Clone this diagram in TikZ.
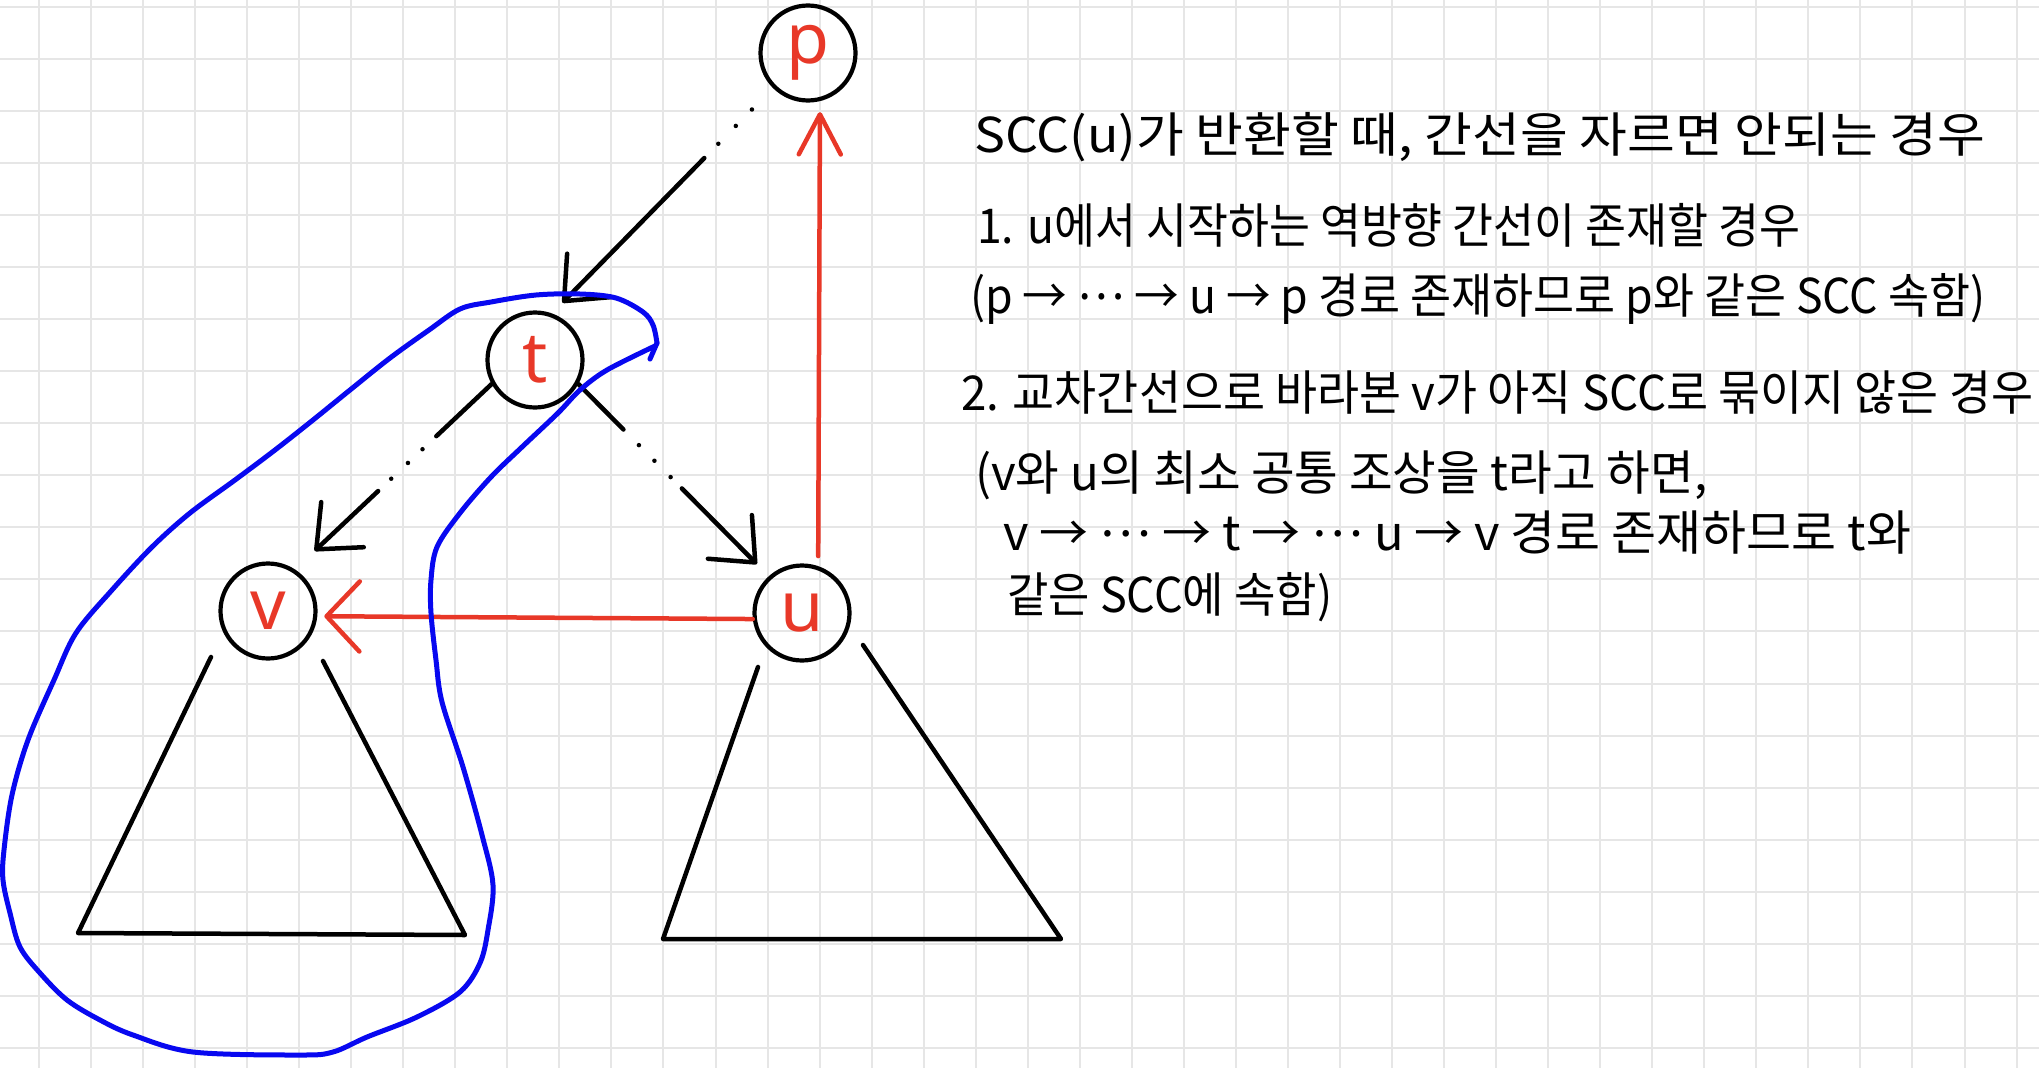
\documentclass[tikz,border=0pt]{standalone}
\usepackage{fontspec}
\usepackage{graphicx}
\usetikzlibrary{arrows.meta,calc}
\newfontfamily\krfont{Noto Sans CJK KR}
\newfontfamily\lettfont{Noto Sans}
\definecolor{gridc}{RGB}{230,230,230}
\definecolor{redc}{RGB}{232,56,40}
\definecolor{bluec}{RGB}{8,8,240}
\newcommand{\mdots}{\raisebox{0.28em}{…}}
\begin{document}
\begin{tikzpicture}[x=1pt,y=-1pt,
  gridline/.style={draw=gridc, line width=2pt},
  vtx/.style={circle, draw=black, line width=4.2pt, minimum size=95pt, inner sep=0pt, text=redc, font=\lettfont\fontsize{70}{70}\selectfont},
  blk/.style={draw=black, line width=4.5pt, line cap=round, -{Straight Barb[length=36pt,width=62pt,round]}},
  redarrow/.style={draw=redc, line width=4.5pt, line cap=round},
  subtree/.style={draw=black, line width=4.5pt, line join=round, line cap=round},
  loopline/.style={draw=bluec, line width=5pt, line cap=round, line join=round},
  txt/.style={anchor=base west, inner sep=0pt, font=\krfont\fontsize{48}{48}\selectfont}
]
\useasboundingbox (0,0) rectangle (2039,1068);
\fill[white] (0,0) rectangle (2039,1068);
% grid
\foreach \i in {0,...,38} \draw[gridline] ({39+52.04*\i},0) -- ({39+52.04*\i},1068);
\foreach \j in {0,...,20} \draw[gridline] (0,{7+52.04*\j}) -- (2039,{7+52.04*\j});

% vertices
\node[vtx] (p) at (808,53) {p};
\node[vtx] (t) at (535,360) {t};
\node[vtx] (v) at (268,611) {v};
\node[vtx] (u) at (802,613) {u};

% subtrees
\draw[subtree] (211,657) -- (78,933) -- (465,935) -- (323,661);
\draw[subtree] (758,667) -- (663,939) -- (1061,939) -- (863,645);

% tree edges (dotted paths)
\draw[blk, shorten <=30pt, shorten >=15pt, dash pattern=on 0pt off 23pt on 0pt off 25pt on 0pt off 20pt on 400pt] (p.225) -- (t.70);
\draw[blk, shorten >=27pt, dash pattern=on 76pt off 19pt on 0pt off 20pt on 0pt off 23pt on 0pt off 18pt on 300pt] (t.209) -- (v.57);
\draw[blk, shorten >=17pt, dash pattern=on 64pt off 22pt on 0pt off 22pt on 0pt off 23pt on 0pt off 16pt on 300pt] (t.331) -- (u.132);

% red edges
\draw[redarrow, shorten <=10pt, shorten >=11pt, -{Straight Barb[length=40pt,width=42pt,round]}] (u.71) -- (p.284);
\draw[redarrow, shorten >=7pt, -{Straight Barb[length=33pt,width=70pt,round]}] (u.187) -- (v.354);

% blue loop
\draw[loopline] (650,359) -- (657,343);
\draw[loopline] plot[smooth, tension=0.55] coordinates {
 (657,343) (653,325) (643,312) (616,298) (580,294) (536,295) (491,302) (460,309)
 (429,330) (390,358) (350,390) (313,420) (275,450) (235,480) (190,513)
 (152,547) (112,590) (76,633) (54,680) (28,740) (12,795) (4,850) (3,880) (10,913)
 (20,947) (40,973) (67,1000) (100,1020) (133,1035) (193,1052) (300,1055) (333,1052)
 (367,1037) (417,1017) (460,992) (480,963) (488,930) (493,885) (482,835) (463,767)
 (442,702) (436,660) (431,613) (431,580) (437,547) (460,513) (491,477) (522,447)
 (558,413) (580,390) (607,370) (655,346)};

% text
\node[txt] (l1) at (974,152) {\resizebox{1011pt}{\height}{SCC(u)가 반환할 때, 간선을 자르면 안되는 경우}};
\node[txt] (l2) at (977,243) {\resizebox{823pt}{\height}{1. u에서 시작하는 역방향 간선이 존재할 경우}};
\node[txt] (l3) at (970,313) {\resizebox{1015pt}{\height}{(p → \mdots{} → u → p 경로 존재하므로 p와 같은 SCC 속함)}};
\node[txt] (l4) at (961,410) {\resizebox{1072pt}{\height}{2. 교차간선으로 바라본 v가 아직 SCC로 묶이지 않은 경우}};
\node[txt] (l5) at (975,490) {\resizebox{732pt}{\height}{(v와 u의 최소 공통 조상을 t라고 하면,}};
\node[txt] (l6) at (1003,550) {\resizebox{908pt}{\height}{v → \mdots{} → t → \mdots{} u → v 경로 존재하므로 t와}};
\node[txt] (l7) at (1007,612) {\resizebox{325pt}{\height}{같은 SCC에 속함)}};
\end{tikzpicture}
\end{document}
